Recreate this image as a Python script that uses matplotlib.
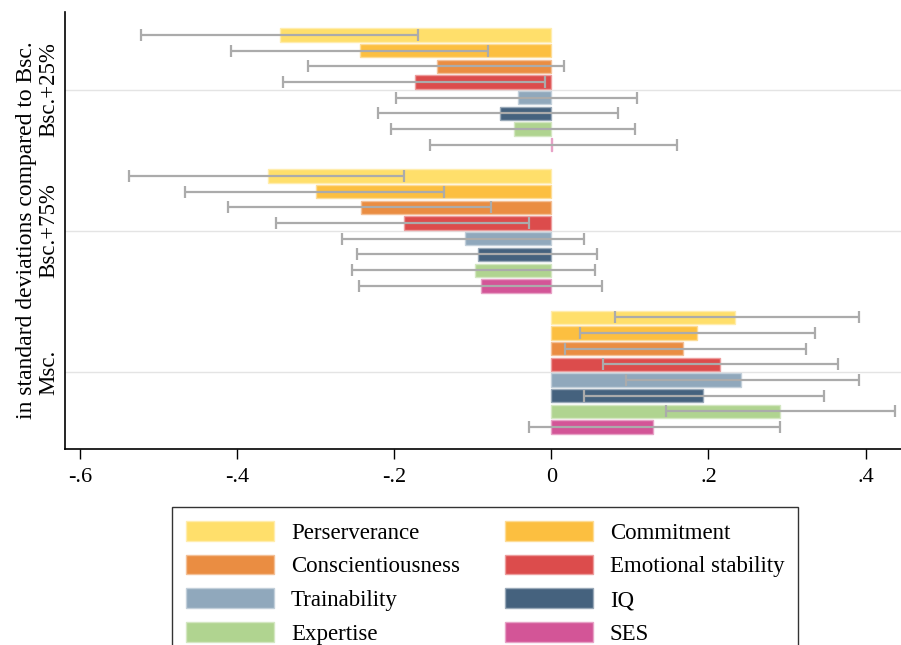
import matplotlib

matplotlib.use("Agg")
import matplotlib.pyplot as plt  # noqa: E402
import numpy as np  # noqa: E402
from matplotlib.colors import to_rgb  # noqa: E402

plt.rcParams["font.family"] = ["Liberation Serif", "DejaVu Serif"]

groups = ["Bsc.+25%", "Bsc.+75%", "Msc."]
traits = ["Perserverance", "Commitment", "Conscientiousness", "Emotional stability",
          "Trainability", "IQ", "Expertise", "SES"]
colors = ["#FFDF6B", "#FCBF40", "#EA8D42", "#DC4C4C",
          "#90A8BC", "#45627E", "#B0D490", "#D35597"]

# point estimates, one row per group, one column per trait
coef = [
    [-0.345, -0.243, -0.145, -0.173, -0.042, -0.065, -0.047, 0.001],
    [-0.361, -0.300, -0.242, -0.188, -0.110, -0.093, -0.097, -0.089],
    [0.234, 0.185, 0.168, 0.215, 0.242, 0.193, 0.291, 0.130],
]
ci_lo = [
    [-0.522, -0.408, -0.310, -0.341, -0.198, -0.220, -0.204, -0.154],
    [-0.537, -0.466, -0.411, -0.350, -0.266, -0.247, -0.253, -0.245],
    [0.081, 0.036, 0.017, 0.066, 0.095, 0.042, 0.146, -0.028],
]
ci_hi = [
    [-0.169, -0.080, 0.016, -0.008, 0.109, 0.085, 0.107, 0.160],
    [-0.188, -0.137, -0.077, -0.029, 0.042, 0.058, 0.056, 0.065],
    [0.391, 0.336, 0.324, 0.365, 0.392, 0.347, 0.438, 0.291],
]
xticks = [-0.6, -0.4, -0.2, 0, 0.2, 0.4]
xticklabels = ["-.6", "-.4", "-.2", "0", ".2", ".4"]


def lighten(c, f=0.45):
    r, g, b = to_rgb(c)
    return (r + (1 - r) * f, g + (1 - g) * f, b + (1 - b) * f)


fig = plt.figure(figsize=(9.01, 6.45), dpi=100)
ax = fig.add_axes([0.072, 0.304, 0.928, 0.677])

coef = np.array(coef)
lo = np.array(ci_lo)
hi = np.array(ci_hi)
n = len(traits)
centers = np.arange(len(groups)) * 9.0
offsets = np.arange(n) - (n - 1) / 2

handles = []
for j, (name, col) in enumerate(zip(traits, colors)):
    y = centers + offsets[j]
    h = ax.barh(y, coef[:, j], height=0.85, color=col, edgecolor=lighten(col),
                linewidth=1.0, zorder=2, label=name)
    handles.append(h)
    ax.errorbar((lo[:, j] + hi[:, j]) / 2, y, xerr=(hi[:, j] - lo[:, j]) / 2,
                fmt="none", ecolor="#ABABAB", elinewidth=1.6, capsize=4,
                capthick=1.6, zorder=3)

ax.set_ylim(centers[-1] + 4.9, -4.95)
ax.set_xlim(-0.619, 0.445)
ax.set_yticks(centers)
ax.set_yticklabels(groups, rotation=90, va="center", fontsize=16.5)
ax.tick_params(axis="y", length=0, pad=4)
ax.set_xticks(xticks)
ax.set_xticklabels(xticklabels, fontsize=16)
ax.tick_params(axis="x", length=7, width=1.0, pad=7)
ax.set_ylabel("in standard deviations compared to Bsc.", fontsize=17, labelpad=1)
ax.grid(axis="y", color="#E4E4E4", lw=1.0, zorder=0)
ax.set_axisbelow(True)
for s in ("top", "right"):
    ax.spines[s].set_visible(False)
for s in ("left", "bottom"):
    ax.spines[s].set_linewidth(1.2)

# legend reads row by row: reorder so the column-major fill matches
order = [0, 2, 4, 6, 1, 3, 5, 7]
leg = fig.legend(handles=[handles[i] for i in order],
                 labels=[traits[i] for i in order], ncol=2, loc="upper left",
                 bbox_to_anchor=(172 / 901, 1 - 507 / 645), fontsize=16.5,
                 frameon=True, fancybox=False, edgecolor="black",
                 handlelength=3.85, handleheight=0.96, handletextpad=0.74,
                 labelspacing=0.48, columnspacing=1.95, borderpad=0.6,
                 borderaxespad=0)
leg.get_frame().set_linewidth(1.0)

fig.savefig("out.png", dpi=100, facecolor="white")
